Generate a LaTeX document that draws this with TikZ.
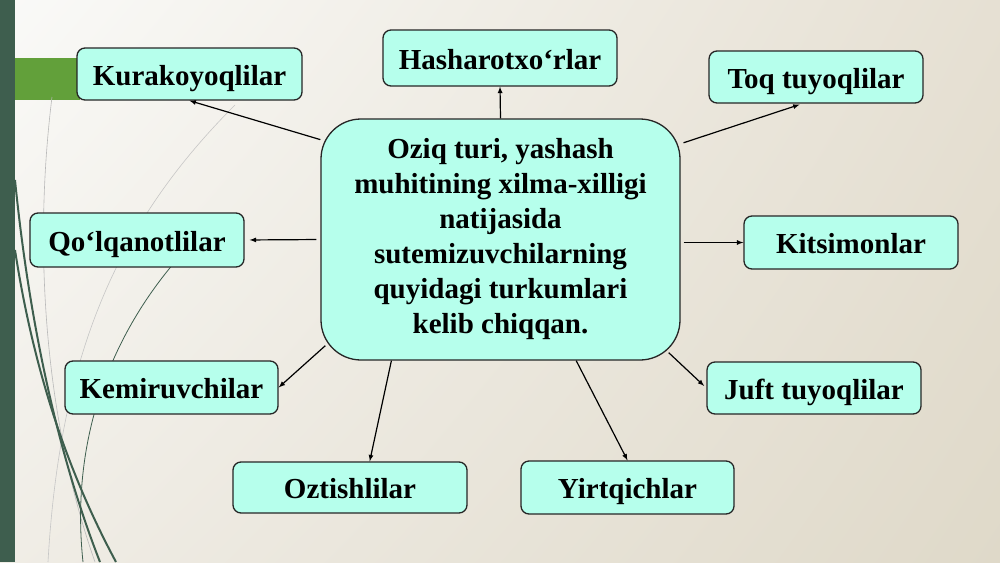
\documentclass[tikz,border=0pt]{standalone}
\usepackage{fontspec}
\setmainfont{Liberation Serif}
\usetikzlibrary{arrows,shadings}
\definecolor{boxfill}{RGB}{182,255,236}
\definecolor{barcol}{RGB}{62,94,78}
\definecolor{bandcol}{RGB}{98,160,58}
\definecolor{bgtl}{RGB}{250,250,248}
\definecolor{bgtr}{RGB}{230,224,211}
\definecolor{bgbl}{RGB}{240,237,230}
\definecolor{bgbr}{RGB}{223,217,201}

\begin{document}
\begin{tikzpicture}[x=1pt,y=-1pt,
    box/.style={draw=black!85,fill=boxfill,line width=1.3pt,rounded corners=8pt,
      inner sep=0pt,text height=22pt,text depth=0pt,
      font=\fontsize{29}{34}\selectfont\bfseries},
    hub/.style={box,rounded corners=40pt,align=center,text height=,text depth=,
      font=\fontsize{29}{35}\selectfont\bfseries},
    link/.style={-latex,line width=1.2pt}]
          \useasboundingbox (0,0) rectangle (1000,562);
          \shade[upper left=bgtl,upper right=bgtr,lower left=bgbl,
            lower right=bgbr] (0,0) rectangle (1000,562); % slide
          \fill[barcol] (0,0) rectangle (15,562); % left bar
          \fill[bandcol] (15,58) rectangle (80,100); % green band
          \draw[gray!55,line width=0.6pt] (52,97) .. controls (33,250) and (45,420) .. (95,562);
          \draw[gray!45,line width=0.6pt] (235,105) .. controls (120,220) and (60,350) .. (48,562);
          \draw[barcol,line width=2pt] (15,180) .. controls (30,330) and (60,460) .. (100,562);
          \draw[barcol,line width=2pt] (15,250) .. controls (35,380) and (72,480) .. (116,562);
          \draw[barcol,line width=0.8pt] (190,245) .. controls (110,330) and (70,440) .. (83,562);
          % nodes
          \node[hub,minimum width=359pt,minimum height=241pt] (hub) at (500.5,239.5)
            {Oziq turi, yashash\\muhitining xilma-xilligi\\natijasida\\sutemizuvchilarning\\quyidagi turkumlari\\kelib chiqqan.};
          \node[box,minimum width=225pt,minimum height=52pt] (kura) at (189.5,74) {Kurakoyoqlilar};
          \node[box,minimum width=234pt,minimum height=56pt] (hash) at (500,58) {Hasharotxo‘rlar};
          \node[box,minimum width=214pt,minimum height=52pt] (toq) at (816,77) {Toq tuyoqlilar};
          \node[box,minimum width=214pt,minimum height=53pt] (kits) at (851,242.5) {Kitsimonlar};
          \node[box,minimum width=214pt,minimum height=54pt] (qol) at (137,240) {Qo‘lqanotlilar};
          \node[box,minimum width=213pt,minimum height=53pt] (kem) at (171.5,387.5) {Kemiruvchilar};
          \node[box,minimum width=234pt,minimum height=51pt] (oz) at (350,487.5) {Oztishlilar};
          \node[box,minimum width=213pt,minimum height=53pt] (yirt) at (627.5,487.5) {Yirtqichlar};
          \node[box,minimum width=214pt,minimum height=52pt] (juft) at (814,388) {Juft tuyoqlilar};
          \coordinate (kemstart) at ([xshift=5pt,yshift=15pt]hub.south west);
          \coordinate (juftstart) at ([xshift=-12pt,yshift=8pt]hub.south east);
          % arrows
          \draw[link] (hub.151) -- (kura.south);
          \draw[link] (hub.north) -- (hash.south);
          \draw[link,shorten <=3pt,shorten >=3pt] (hub.28.5) -- (toq.-117);
          \draw[link,shorten <=3pt] (kits.west -| hub.east) -- (kits.west);
          \draw[link,shorten <=4pt,shorten >=5pt] (hub.west) -- (qol.east);
          \draw[link] (kemstart) -- (kem.east);
          \draw[link] (hub.-132) -- (oz.53);
          \draw[link] (hub.-58) -- (yirt.north);
          \draw[link,shorten >=3pt] (juftstart) -- (juft.west);
        \end{tikzpicture}
\end{document}
